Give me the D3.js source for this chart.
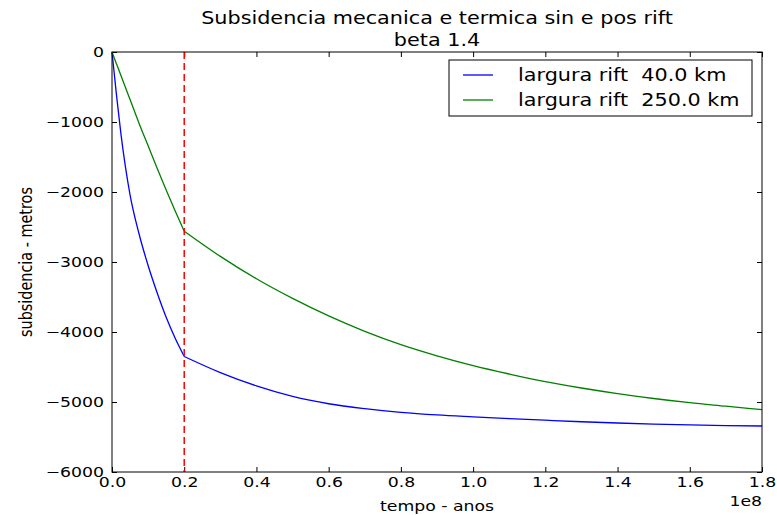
<!DOCTYPE html>
<html>
<head>
    <meta charset="utf-8">
    <title>subsidencia-beta-1.4</title>
    <style>
body { margin: 0; background: #fff; }
text { font-family: "DejaVu Sans", sans-serif; fill: #000; }
.frame { fill: none; stroke: #000; stroke-width: 1; }
.curve { fill: none; stroke-width: 1.3; }
</style>
</head>
<body>
    <script src="https://cdn.jsdelivr.net/npm/d3@7"></script>
    <script>
        // time in years, subsidence in metres
        var tempo = [0, 1.25e6, 2.5e6, 5e6, 7.5e6, 1e7, 1.25e7, 1.5e7, 1.75e7, 2e7,
            3e7, 4e7, 5e7, 6e7, 7e7, 8e7, 9e7, 1e8, 1.1e8, 1.2e8, 1.3e8, 1.4e8, 1.5e8, 1.6e8, 1.7e8, 1.8e8];
        var rift40 = [0, -620, -1180, -2040, -2600, -3050, -3440, -3790, -4090, -4350,
            -4580, -4770, -4920, -5025, -5095, -5148, -5185, -5212, -5237, -5260, -5282, -5300, -5316, -5328, -5337, -5343];
        var rift250 = [0, -170, -340, -680, -1020, -1340, -1660, -1970, -2270, -2560,
            -2920, -3240, -3520, -3770, -3990, -4180, -4340, -4480, -4600, -4710, -4800, -4880, -4950, -5010, -5060, -5110];
        var seriesNames = ["largura rift  40.0 km", "largura rift  250.0 km"];
        var seriesColors = ["#0000ff", "#008000"];
        var fimRift = 2e7;   // end of rifting (red dashed line)

        var xTicks = [0, 2e7, 4e7, 6e7, 8e7, 1e8, 1.2e8, 1.4e8, 1.6e8, 1.8e8];
        var xTickLabels = ["0.0", "0.2", "0.4", "0.6", "0.8", "1.0", "1.2", "1.4", "1.6", "1.8"];
        var yTicks = [0, -1000, -2000, -3000, -4000, -5000, -6000];
        var yTickLabels = ["0", "\u22121000", "\u22122000", "\u22123000", "\u22124000", "\u22125000", "\u22126000"];

        var totalWidth = 777, totalHeight = 515;
        var margin = { top: 52, right: 15, bottom: 43, left: 112 };
        var width = totalWidth - margin.left - margin.right,
            height = totalHeight - margin.top - margin.bottom;
        var sx = 1.2;          // the picture's text is a bit stretched sideways
        var fs = 14.4, fsBig = 17.3;

        var root = d3.select("body").append("svg")
            .attr("width", totalWidth)
            .attr("height", totalHeight);
        var svg = root.append("g")
            .attr("transform", "translate(" + margin.left + "," + margin.top + ")");

        var x = d3.scaleLinear().domain([0, 1.8e8]).range([0, width]);
        var y = d3.scaleLinear().domain([-6000, 0]).range([height, 0]);

        // axes - ticks point inwards on all four sides
        var xAxis = svg.append("g")
            .attr("transform", "translate(0," + height + ")")
            .call(d3.axisBottom(x).tickValues(xTicks)
                .tickFormat(function (d, i) { return xTickLabels[i]; })
                .tickSizeInner(-5).tickSizeOuter(0).tickPadding(5));
        var yAxis = svg.append("g")
            .call(d3.axisLeft(y).tickValues(yTicks)
                .tickFormat(function (d, i) { return yTickLabels[i]; })
                .tickSizeInner(-5).tickSizeOuter(0).tickPadding(8));
        svg.append("g")
            .call(d3.axisTop(x).tickValues(xTicks).tickFormat("").tickSizeInner(-5).tickSizeOuter(0));
        svg.append("g")
            .attr("transform", "translate(" + width + ",0)")
            .call(d3.axisRight(y).tickValues(yTicks).tickFormat("").tickSizeInner(-5).tickSizeOuter(0));

        svg.selectAll(".domain").remove();
        svg.selectAll(".tick line").attr("stroke", "#000");
        xAxis.selectAll("text").attr("font-size", fs).attr("font-family", "DejaVu Sans")
            .attr("transform", "scale(" + sx + ",1)");
        yAxis.selectAll("text").attr("font-size", fs).attr("font-family", "DejaVu Sans")
            .attr("x", -8 / sx).attr("transform", "scale(" + sx + ",1)");

        // curves - syn-rift and post-rift drawn as two pieces so the corner stays sharp
        var line = d3.line()
            .curve(d3.curveMonotoneX)
            .x(function (d) { return x(d[0]); })
            .y(function (d) { return y(d[1]); });
        [rift40, rift250].forEach(function (vals, i) {
            var pts = tempo.map(function (t, j) { return [t, vals[j]]; });
            var syn = pts.filter(function (d) { return d[0] <= fimRift; });
            var pos = pts.filter(function (d) { return d[0] >= fimRift; });
            [syn, pos].forEach(function (part) {
                svg.append("path")
                    .datum(part)
                    .attr("class", "curve")
                    .attr("stroke", seriesColors[i])
                    .attr("d", line);
            });
        });

        // end of rift marker
        svg.append("line")
            .attr("x1", x(fimRift)).attr("x2", x(fimRift))
            .attr("y1", 0).attr("y2", height)
            .attr("stroke", "#ff0000").attr("stroke-width", 1.5)
            .attr("stroke-dasharray", "7,4");

        svg.append("rect").attr("class", "frame")
            .attr("width", width).attr("height", height);

        // legend
        var legend = svg.append("g").attr("transform", "translate(" + (449 - margin.left) + "," + (60 - margin.top) + ")");
        legend.append("rect")
            .attr("width", 303).attr("height", 56)
            .attr("fill", "#fff").attr("stroke", "#000").attr("stroke-width", 1);
        seriesNames.forEach(function (name, i) {
            var ly = 15 + i * 25;
            legend.append("line")
                .attr("x1", 14).attr("x2", 44).attr("y1", ly).attr("y2", ly)
                .attr("stroke", seriesColors[i]).attr("stroke-width", 1.3);
            legend.append("text")
                .attr("transform", "translate(69," + (ly + 6) + ") scale(" + sx + ",1)")
                .attr("font-size", fsBig)
                .style("white-space", "pre")
                .text(name);
        });

        // titles and axis labels
        root.append("text")
            .attr("transform", "translate(" + (margin.left + width / 2) + ",24) scale(" + sx + ",1)")
            .attr("text-anchor", "middle").attr("font-size", fsBig)
            .text("Subsidencia mecanica e termica sin e pos rift");
        root.append("text")
            .attr("transform", "translate(" + (margin.left + width / 2) + ",46) scale(" + sx + ",1)")
            .attr("text-anchor", "middle").attr("font-size", fsBig)
            .text("beta 1.4");
        root.append("text")
            .attr("transform", "translate(" + (margin.left + width / 2) + ",511) scale(" + sx + ",1)")
            .attr("text-anchor", "middle").attr("font-size", fs)
            .text("tempo - anos");
        root.append("text")
            .attr("transform", "translate(" + (margin.left + width) + ",506) scale(" + sx + ",1)")
            .attr("text-anchor", "end").attr("font-size", fs)
            .text("1e8");
        root.append("text")
            .attr("transform", "translate(32," + (margin.top + height / 2) + ") rotate(-90) scale(1," + sx + ")")
            .attr("text-anchor", "middle").attr("font-size", fs)
            .text("subsidencia - metros");
    </script>
</body>
</html>
